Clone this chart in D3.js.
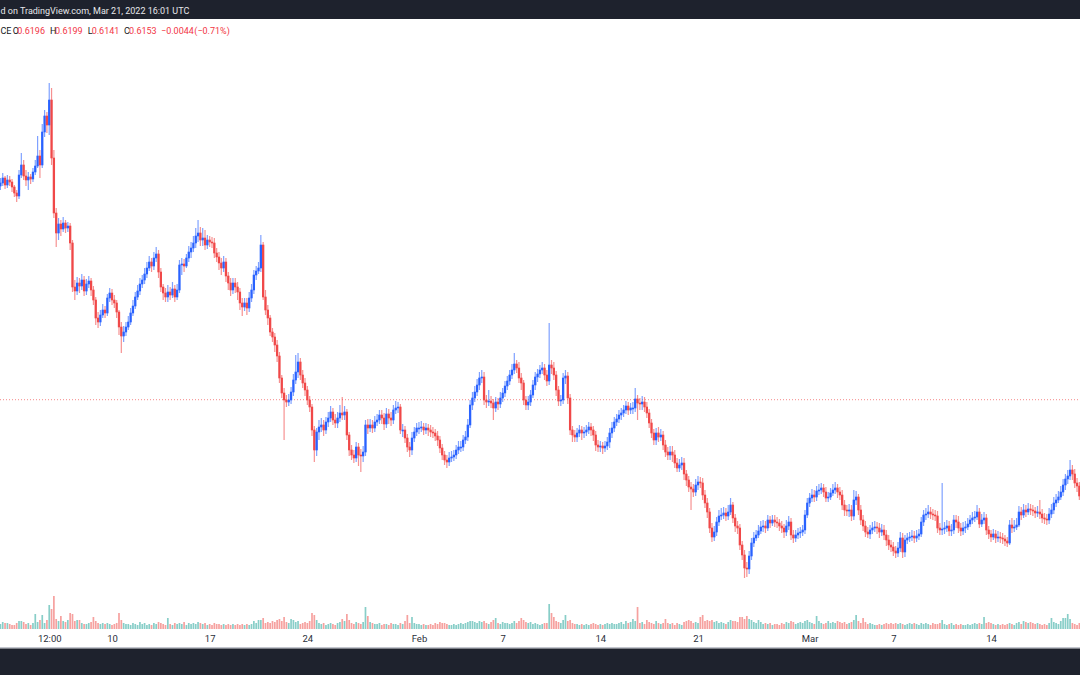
<!DOCTYPE html>
<html><head><meta charset="utf-8">
<script src="https://cdn.jsdelivr.net/npm/d3@7"></script>
<style>html,body{margin:0;padding:0;background:#fff;}svg{display:block;}</style>
</head><body>
<svg id="c" width="1080" height="675"></svg>
<script>
// ---- DATA (4h bars, price in USDT) ----
const startTime = "2022-01-02T00:00:00Z";
const barHours = 4;
const open0 = .829;
const close = [
.832,.837,.830,.835,.833,.828,.822,.819,.840,.850,
.839,.835,.838,.836,.843,.849,.859,.850,.883,.899,
.890,.915,.857,.802,.782,.791,.786,.792,.787,.789,
.772,.728,.724,.732,.729,.735,.724,.731,.734,.725,
.715,.697,.693,.700,.705,.702,.717,.722,.715,.712,
.703,.688,.679,.683,.688,.693,.702,.709,.718,.724,
.731,.735,.741,.747,.753,.749,.757,.761,.743,.728,
.722,.718,.723,.720,.726,.718,.725,.750,.751,.749,
.757,.763,.767,.772,.779,.782,.775,.777,.770,.775,
.773,.772,.762,.758,.752,.747,.753,.739,.732,.725,
.732,.728,.723,.712,.708,.712,.707,.717,.725,.740,
.744,.747,.770,.718,.705,.697,.683,.678,.670,.659,
.637,.622,.615,.613,.615,.623,.635,.643,.653,.640,
.632,.625,.615,.608,.585,.565,.583,.588,.590,.585,
.593,.597,.603,.595,.592,.597,.602,.600,.603,.580,
.565,.560,.557,.568,.560,.559,.563,.590,.587,.590,
.587,.593,.595,.600,.597,.591,.601,.597,.595,.605,
.607,.608,.585,.585,.577,.568,.565,.577,.583,.587,
.587,.588,.585,.587,.585,.583,.582,.579,.575,.567,
.560,.555,.553,.557,.558,.560,.565,.568,.568,.575,
.578,.590,.610,.617,.623,.630,.637,.638,.615,.613,
.614,.612,.607,.613,.611,.617,.622,.629,.634,.640,
.645,.651,.647,.637,.632,.615,.610,.613,.620,.630,
.638,.641,.645,.647,.640,.634,.650,.647,.640,.625,
.614,.615,.637,.639,.617,.585,.580,.578,.582,.585,
.582,.583,.585,.588,.585,.580,.570,.568,.569,.567,
.569,.573,.582,.587,.593,.596,.600,.602,.605,.609,
.605,.607,.607,.616,.612,.611,.613,.608,.602,.592,
.582,.575,.582,.578,.580,.570,.563,.560,.563,.560,
.552,.547,.550,.552,.541,.535,.528,.526,.523,.530,
.533,.532,.520,.512,.503,.487,.478,.483,.493,.499,
.500,.502,.499,.503,.510,.497,.489,.487,.470,.460,
.447,.446,.459,.472,.477,.480,.484,.488,.489,.487,
.495,.492,.495,.493,.492,.489,.487,.483,.489,.493,
.480,.477,.480,.482,.483,.485,.500,.512,.517,.520,
.518,.524,.525,.527,.523,.517,.518,.522,.525,.527,
.523,.520,.510,.505,.504,.505,.499,.515,.518,.505,
.495,.489,.483,.481,.485,.487,.488,.487,.483,.485,
.480,.475,.470,.468,.464,.462,.467,.477,.463,.475,
.477,.478,.479,.477,.479,.481,.493,.500,.501,.503,
.501,.500,.499,.487,.485,.486,.487,.489,.484,.485,
.495,.493,.487,.484,.487,.488,.491,.495,.497,.498,
.503,.491,.495,.497,.485,.481,.478,.481,.477,.478,
.477,.476,.474,.472,.490,.487,.488,.490,.503,.500,
.505,.503,.506,.505,.504,.502,.503,.501,.497,.496,
.495,.501,.505,.512,.515,.518,.523,.530,.536,.539,
.545,.541,.532,.529,.519];
const high = [
.837,.842,.839,.840,.839,.836,.830,.825,.845,.862,
.855,.845,.843,.841,.847,.855,.879,.865,.891,.905,
.903,.932,.927,.865,.807,.797,.795,.798,.795,.793,
.792,.775,.735,.738,.737,.741,.739,.736,.739,.737,
.729,.718,.703,.705,.711,.709,.721,.727,.726,.720,
.715,.705,.693,.689,.693,.699,.707,.715,.723,.730,
.737,.740,.747,.753,.759,.757,.763,.768,.765,.747,
.731,.727,.730,.728,.733,.730,.731,.755,.757,.756,
.761,.769,.773,.779,.787,.795,.788,.787,.785,.780,
.779,.778,.777,.767,.763,.757,.759,.757,.743,.737,
.737,.737,.733,.727,.717,.717,.717,.723,.731,.745,
.749,.753,.780,.773,.725,.710,.700,.687,.682,.675,
.663,.640,.627,.620,.621,.628,.641,.660,.662,.657,
.645,.637,.629,.619,.611,.589,.587,.595,.597,.595,
.598,.603,.609,.607,.601,.603,.610,.618,.609,.606,
.583,.570,.565,.573,.572,.566,.569,.595,.596,.596,
.595,.599,.601,.605,.605,.602,.607,.606,.603,.610,
.614,.613,.611,.591,.589,.581,.573,.583,.588,.592,
.593,.594,.592,.592,.591,.590,.588,.586,.584,.579,
.571,.564,.560,.563,.564,.565,.570,.574,.574,.580,
.584,.596,.615,.623,.629,.636,.643,.645,.643,.620,
.625,.619,.616,.618,.617,.623,.627,.634,.639,.645,
.651,.662,.655,.653,.642,.635,.619,.619,.625,.635,
.643,.646,.650,.653,.651,.645,.692,.655,.653,.644,
.629,.620,.642,.645,.643,.621,.589,.585,.587,.590,
.589,.588,.590,.593,.592,.589,.584,.575,.574,.573,
.574,.578,.587,.593,.598,.601,.605,.607,.610,.614,
.613,.612,.613,.627,.620,.617,.619,.618,.613,.606,
.596,.586,.587,.588,.586,.584,.575,.568,.569,.569,
.565,.557,.556,.558,.557,.545,.539,.533,.531,.536,
.539,.538,.537,.525,.517,.507,.492,.489,.498,.505,
.507,.508,.507,.510,.517,.513,.501,.494,.491,.474,
.465,.453,.464,.477,.483,.485,.490,.494,.495,.494,
.500,.499,.500,.500,.498,.496,.494,.491,.495,.499,
.497,.485,.485,.487,.488,.490,.505,.517,.522,.526,
.525,.529,.531,.532,.531,.528,.523,.527,.531,.533,
.531,.528,.525,.515,.510,.511,.510,.525,.524,.521,
.510,.500,.494,.488,.490,.493,.494,.493,.492,.491,
.490,.485,.480,.475,.473,.469,.473,.483,.482,.480,
.482,.483,.485,.484,.485,.486,.498,.505,.507,.510,
.508,.506,.505,.504,.492,.532,.493,.495,.494,.491,
.500,.500,.499,.492,.493,.494,.497,.500,.503,.504,
.510,.507,.501,.503,.501,.489,.485,.486,.485,.484,
.483,.482,.480,.478,.495,.497,.495,.497,.509,.508,
.511,.510,.512,.511,.510,.508,.509,.515,.506,.502,
.501,.507,.511,.518,.521,.524,.529,.536,.541,.545,
.555,.550,.546,.537,.533];
const low = [
.825,.829,.826,.827,.829,.823,.818,.813,.816,.837,
.835,.829,.825,.831,.833,.840,.847,.837,.847,.878,
.882,.880,.850,.797,.768,.775,.779,.783,.782,.783,
.765,.723,.715,.720,.722,.725,.719,.720,.727,.719,
.710,.690,.687,.689,.697,.697,.699,.713,.710,.707,
.697,.680,.662,.673,.679,.685,.690,.699,.706,.715,
.720,.727,.731,.737,.744,.743,.745,.753,.737,.723,
.715,.713,.713,.715,.717,.713,.715,.722,.740,.743,
.747,.753,.757,.763,.767,.773,.769,.769,.765,.766,
.768,.767,.757,.753,.745,.740,.743,.733,.725,.719,
.721,.722,.715,.705,.699,.704,.700,.703,.713,.721,
.735,.741,.743,.715,.700,.690,.679,.673,.663,.653,
.632,.617,.575,.608,.609,.611,.619,.631,.637,.635,
.627,.619,.610,.603,.579,.553,.559,.575,.583,.579,
.581,.588,.593,.590,.587,.587,.593,.595,.595,.575,
.559,.555,.552,.553,.549,.543,.553,.559,.581,.583,
.582,.583,.589,.591,.591,.585,.587,.591,.589,.591,
.601,.602,.581,.578,.572,.563,.558,.560,.573,.579,
.581,.583,.580,.581,.579,.578,.577,.574,.569,.562,
.555,.550,.547,.549,.553,.554,.556,.561,.563,.564,
.571,.574,.587,.605,.613,.619,.625,.632,.610,.607,
.609,.607,.595,.603,.605,.607,.613,.618,.625,.630,
.636,.641,.642,.632,.625,.610,.605,.605,.609,.617,
.625,.633,.637,.641,.635,.629,.630,.641,.635,.619,
.609,.609,.611,.631,.611,.580,.573,.573,.573,.578,
.575,.577,.579,.581,.579,.574,.564,.563,.563,.561,
.563,.565,.567,.577,.583,.589,.592,.595,.598,.601,
.600,.601,.601,.603,.595,.605,.605,.603,.597,.587,
.577,.570,.570,.573,.574,.565,.558,.555,.555,.553,
.547,.543,.543,.545,.535,.529,.523,.505,.518,.519,
.525,.527,.515,.507,.497,.482,.473,.474,.479,.489,
.495,.496,.494,.495,.500,.492,.483,.481,.465,.455,
.437,.438,.441,.455,.468,.474,.477,.481,.483,.482,
.484,.487,.489,.488,.487,.484,.482,.477,.479,.485,
.475,.472,.473,.476,.477,.479,.481,.497,.508,.513,
.513,.514,.520,.521,.518,.513,.513,.515,.519,.521,
.517,.515,.505,.499,.499,.498,.494,.495,.510,.500,
.490,.484,.478,.477,.476,.481,.483,.481,.477,.479,
.475,.469,.465,.463,.459,.457,.458,.463,.457,.458,
.471,.473,.474,.472,.473,.475,.478,.489,.495,.497,
.496,.495,.494,.482,.480,.480,.481,.483,.479,.479,
.481,.487,.482,.479,.480,.482,.485,.488,.491,.493,
.495,.487,.488,.491,.480,.476,.473,.475,.472,.473,
.472,.471,.469,.468,.470,.482,.483,.485,.488,.495,
.497,.498,.500,.500,.499,.497,.498,.496,.492,.491,
.490,.491,.497,.501,.508,.512,.515,.519,.525,.531,
.535,.535,.527,.523,.515];
// volume, millions
const volume = [
5,7,6,6,5,4,4,6,8,8, 7,5,6,4,6,15,7,9,14,6, 9,24,20,33,10,8,13,8,7,9,
16,15,8,9,9,6,5,5,6,7, 12,8,6,5,6,5,6,5,4,5, 6,16,9,6,5,5,4,6,5,4,
7,5,6,4,5,4,6,5,7,6, 5,4,11,5,4,6,5,6,5,7, 4,6,5,6,5,7,6,5,6,4,
5,4,6,5,5,4,5,4,5,4, 5,4,5,4,5,4,5,4,5,8, 6,9,9,11,6,7,6,8,7,9,
10,8,12,7,6,10,9,7,8,5, 6,7,6,8,16,14,9,6,5,6, 4,5,6,5,4,6,7,10,8,15,
9,6,5,7,6,5,7,22,13,7, 6,5,5,6,4,5,5,4,6,5, 5,4,6,5,8,14,6,12,6,5,
5,4,5,4,4,5,4,6,5,7, 6,6,5,4,4,5,4,5,6,5, 6,7,8,8,7,6,8,7,8,6,
5,7,9,11,6,5,7,6,6,5, 6,8,6,8,11,9,7,6,7,5, 6,5,4,5,6,6,25,16,12,8,
7,6,9,14,8,9,6,5,5,4, 5,4,5,4,5,6,5,4,5,4, 5,6,5,6,5,5,6,7,5,8,
6,7,10,8,22,6,7,5,9,7, 6,5,8,6,5,6,10,6,5,6, 4,6,5,4,7,8,9,8,6,7,
6,12,14,8,9,8,9,7,8,6, 7,6,5,7,9,8,8,7,12,12, 10,13,10,9,7,6,9,7,5,6,
5,6,4,5,5,4,6,5,7,6, 8,7,5,6,7,6,8,9,7,6, 5,13,8,6,5,6,8,6,7,6,
8,7,6,7,5,6,7,9,14,8, 6,11,7,5,6,5,4,4,5,4, 5,6,5,6,5,6,5,6,5,4,
5,6,5,6,5,4,6,5,6,5, 4,6,5,5,6,9,5,4,5,6, 4,5,4,5,4,4,5,4,5,6,
5,6,5,12,6,7,6,5,4,5, 4,5,4,5,6,5,4,6,7,5, 8,7,6,7,6,5,6,5,4,5,
4,6,11,7,6,5,8,11,11,15, 10,6,5,4,6];
const tickDates = ["2022-01-05T12:00:00Z","2022-01-10T00:00:00Z","2022-01-17T00:00:00Z","2022-01-24T00:00:00Z","2022-02-01T00:00:00Z","2022-02-07T00:00:00Z","2022-02-14T00:00:00Z","2022-02-21T00:00:00Z","2022-03-01T00:00:00Z","2022-03-07T00:00:00Z","2022-03-14T00:00:00Z"];
const tickLabels = ["12:00","10","17","24","Feb","7","14","21","Mar","7","14"];
const lastPrice = 0.6153;
const headerText = "d on TradingView.com, Mar 21, 2022 16:01 UTC";
const symbolTail = "CE";
const ohlcLabels = ["O","H","L","C"];
const ohlcValues = ["0.6196","0.6199","0.6141","0.6153"];
const changeText = ["\u22120.0044","(\u22120.71%)"];

// ---- DRAW ----
const W = 1080, H = 675;
const svg = d3.select("#c");
const UP = "#2962ff", DN = "#f04848";
const VUP = "rgba(38,166,154,0.55)", VDN = "rgba(239,83,80,0.55)";
const FONT = "Roboto, 'Liberation Sans', sans-serif";

const t0 = new Date(startTime).getTime();
const bars = close.map((c, i) => ({
  t: new Date(t0 + i * barHours * 3600e3),
  o: i === 0 ? open0 : close[i - 1], h: high[i], l: low[i], c, v: volume[i]
}));

const x = d3.scaleUtc()
  .domain([new Date("2022-01-02T00:00:00Z"), new Date("2022-03-14T00:00:00Z")])
  .range([0.4, 991]);
const y = d3.scaleLinear().domain([0.435, 0.935]).range([580, 80]);
const yv = d3.scaleLinear().domain([0, 33]).range([629, 596]);

svg.append("rect").attr("width", W).attr("height", H).attr("fill", "#ffffff");

// volume
const vw = 1.7;
svg.append("g").selectAll("rect").data(bars).join("rect")
  .attr("x", d => x(d.t) - vw / 2).attr("width", vw)
  .attr("y", d => yv(d.v)).attr("height", d => yv(0) - yv(d.v))
  .attr("fill", d => d.c >= d.o ? VUP : VDN);

// last price line
svg.append("line").attr("x1", 0).attr("x2", W)
  .attr("y1", y(lastPrice)).attr("y2", y(lastPrice))
  .attr("stroke", DN).attr("stroke-opacity", 0.65).attr("stroke-width", 1)
  .attr("stroke-dasharray", "1,2");

// candles
const cg = svg.append("g");
cg.selectAll("line").data(bars).join("line")
  .attr("x1", d => x(d.t)).attr("x2", d => x(d.t))
  .attr("y1", d => y(d.h)).attr("y2", d => y(d.l))
  .attr("stroke", d => d.c >= d.o ? UP : DN).attr("stroke-opacity", 0.6).attr("stroke-width", 1.2);
const bw = 2.3;
cg.selectAll("rect").data(bars).join("rect")
  .attr("x", d => x(d.t) - bw / 2).attr("width", bw)
  .attr("y", d => y(Math.max(d.o, d.c)) - 0.3)
  .attr("height", d => Math.max(1.6, Math.abs(y(d.o) - y(d.c)) + 0.6))
  .attr("fill", d => d.c >= d.o ? UP : DN);

// x axis
const ax = svg.append("g").attr("transform", "translate(0,632)")
  .call(d3.axisBottom(x).tickValues(tickDates.map(d => new Date(d)))
    .tickFormat((d, i) => tickLabels[i]).tickSize(0).tickPadding(3));
ax.select(".domain").remove();
ax.selectAll("text").attr("fill", "#2a2e39").style("font-family", FONT).style("font-size", "9.5px");

// top and bottom bands
svg.append("rect").attr("x", 0).attr("y", 0).attr("width", W).attr("height", 19).attr("fill", "#1e222d");
svg.append("rect").attr("x", 0).attr("y", 647).attr("width", W).attr("height", 1.5).attr("fill", "#c3c6ce");
svg.append("rect").attr("x", 0).attr("y", 648.5).attr("width", W).attr("height", H - 648.5).attr("fill", "#1e222d");

svg.append("text").attr("x", 0.5).attr("y", 14)
  .attr("fill", "#e6e7ea").style("font-family", FONT).style("font-size", "9px").text(headerText);

// OHLC legend
const lg = svg.append("g").style("font-family", FONT).style("font-size", "9px");
const ly = 34;
lg.append("text").attr("x", 0.5).attr("y", ly).attr("fill", "#131722").text(symbolTail);
const labX = [12.7, 50, 87.7, 124], valX = [17.3, 55, 91.7, 129];
ohlcLabels.forEach((s, i) => {
  lg.append("text").attr("x", labX[i]).attr("y", ly).attr("fill", "#131722").text(s);
  lg.append("text").attr("x", valX[i]).attr("y", ly).attr("fill", "#f23645").text(ohlcValues[i]);
});
lg.append("text").attr("x", 161).attr("y", ly).attr("fill", "#f23645").text(changeText[0]);
lg.append("text").attr("x", 194.3).attr("y", ly).attr("fill", "#f23645").text(changeText[1]);
</script>
</body></html>
